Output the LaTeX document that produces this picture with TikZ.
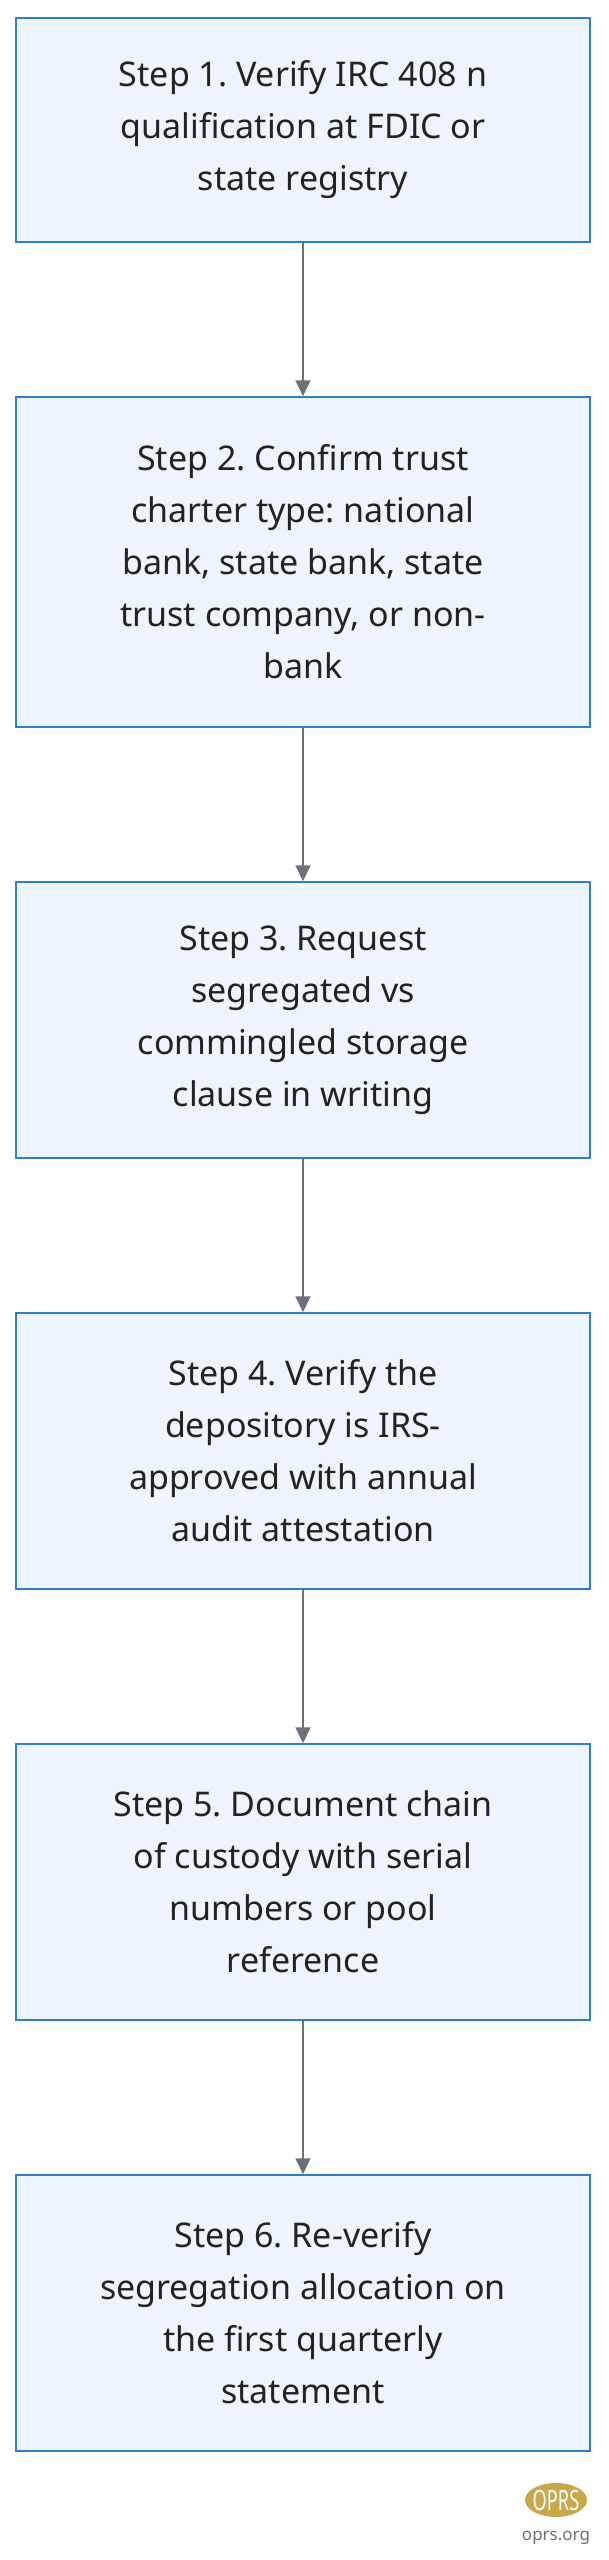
\documentclass[tikz,border=0pt]{standalone}
\usepackage{fontspec}
\setmainfont{Noto Sans}
\usetikzlibrary{arrows.meta,shapes.geometric}
\definecolor{boxfill}{HTML}{EDF4FC}
\definecolor{boxline}{HTML}{2F7DD1}
\definecolor{arr}{HTML}{6B7079}
\definecolor{txt}{HTML}{222222}
\definecolor{gold}{HTML}{C9A84C}
\frenchspacing
\begin{document}
\begin{tikzpicture}[x=1pt,y=-1pt,
  stepbox/.style={draw=boxline,line width=1.5pt,fill=boxfill,minimum width=574pt,align=center,text=txt,font=\fontsize{34}{52}\selectfont},
  conn/.style={draw=arr,line width=1.8pt,-{Triangle[length=16pt,width=15pt]}}]
\useasboundingbox (0,0) rectangle (608,2560);
\node[stepbox,minimum height=224pt] (s1) at (303,130) {Step 1. Verify IRC 408 n\\qualification at FDIC or\\state registry};
\node[stepbox,minimum height=330pt] (s2) at (303,562) {Step 2. Confirm trust\\charter type: national\\bank, state bank, state\\trust company, or non-\\bank};
\node[stepbox,minimum height=276pt] (s3) at (303,1020) {Step 3. Request\\segregated vs\\commingled storage\\clause in writing};
\node[stepbox,minimum height=276pt] (s4) at (303,1451) {Step 4. Verify the\\depository is IRS-\\approved with annual\\audit attestation};
\node[stepbox,minimum height=276pt] (s5) at (303,1882) {Step 5. Document chain\\of custody with serial\\numbers or pool\\reference};
\node[stepbox,minimum height=276pt] (s6) at (303,2313) {Step 6. Re-verify\\segregation allocation on\\the first quarterly\\statement};
\draw[conn] (s1) -- (s2);
\draw[conn] (s2) -- (s3);
\draw[conn] (s3) -- (s4);
\draw[conn] (s4) -- (s5);
\draw[conn] (s5) -- (s6);
\node[ellipse,fill=gold,minimum width=62pt,minimum height=34pt,inner sep=0pt] (logo) at (556,2500) {};
\node[text=white,font=\bfseries\fontsize{28}{28}\selectfont,xscale=0.65] (logot) at (556,2500) {OPRS};
\node[text=arr,font=\bfseries\fontsize{17}{17}\selectfont] (url) at (556,2538) {oprs.org};
\end{tikzpicture}
\end{document}
